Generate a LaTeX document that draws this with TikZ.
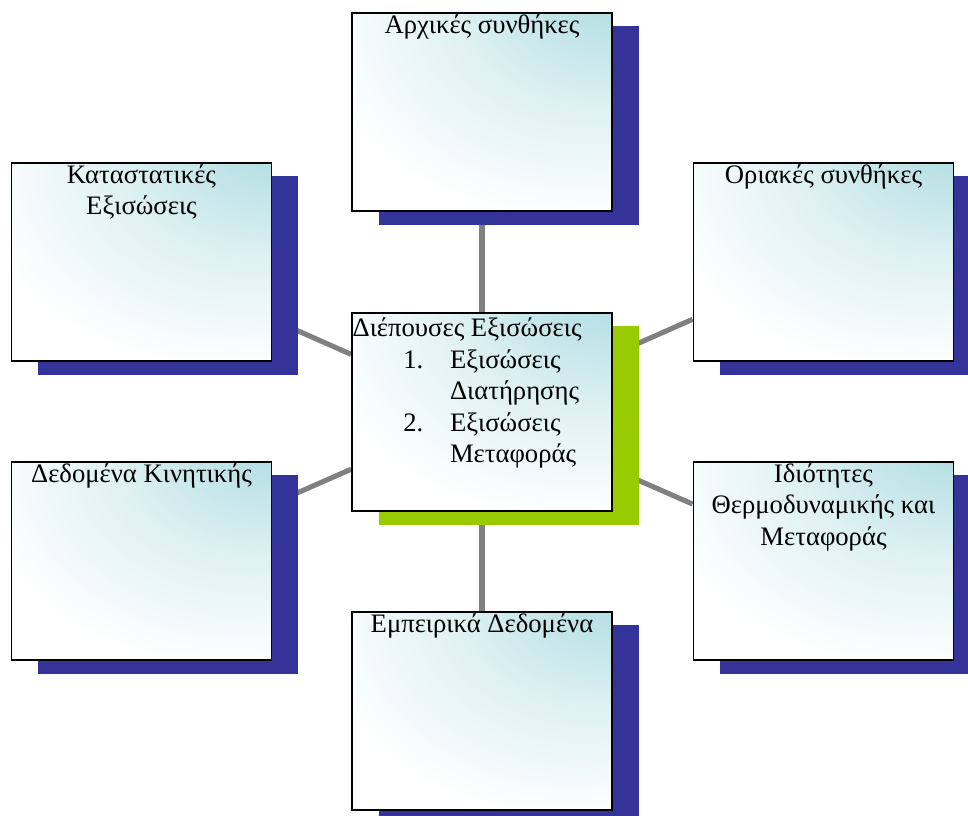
\documentclass[tikz,border=0pt]{standalone}
\usepackage{fontspec}
\setmainfont{Liberation Serif}
\usetikzlibrary{shadows, backgrounds}
\definecolor{boxcyan}{RGB}{183,224,228}
\definecolor{navyshade}{RGB}{51,51,153}
\definecolor{limeshade}{RGB}{153,204,0}
\pgfdeclareradialshading{glare}{\pgfpoint{30bp}{38bp}}{color(0bp)=(boxcyan); color(10bp)=(boxcyan); color(27bp)=(boxcyan!45!white); color(47bp)=(white); color(100bp)=(white)}
\tikzstyle{panel} = [rectangle, minimum width=195pt, minimum height=149pt, draw=black, line width=1.4pt, shade, shading=glare]
\tikzstyle{topic} = [panel, drop shadow={shadow xshift=20pt, shadow yshift=-10pt, fill=navyshade, opacity=1}]
\tikzstyle{hub} = [panel, drop shadow={shadow xshift=20pt, shadow yshift=-10pt, fill=limeshade, opacity=1}]
\tikzstyle{caption} = [align=center, inner sep=2pt, font=\fontsize{20}{23.6}\selectfont]
\tikzstyle{link} = [gray, line width=3.8pt]

\begin{document}
\begin{tikzpicture}[x=0.75pt, y=-0.75pt]
\useasboundingbox (0,0) rectangle (968,816);

% Central node
\node (gov) [hub, label={[caption, anchor=north west, inner xsep=1pt]north west:{%
\begin{tabular}{@{\hspace{38pt}}p{35pt}@{}l@{}}
\multicolumn{2}{@{}l@{}}{Διέπουσες Εξισώσεις}\\
1. & Εξισώσεις\\
   & Διατήρησης\\
2. & Εξισώσεις\\
   & Μεταφοράς
\end{tabular}}}] at (482,412) {};

% Surrounding nodes
\node (init) [topic, label={[caption, anchor=north]north:Αρχικές συνθήκες}] at (482,112) {};
\node (const) [topic, label={[caption, anchor=north]north:{Καταστατικές\\Εξισώσεις}}] at (141.5,262) {};
\node (bound) [topic, label={[caption, anchor=north]north:Οριακές συνθήκες}] at (823.5,262) {};
\node (kin) [topic, label={[caption, anchor=north]north:Δεδομένα Κινητικής}] at (141.5,561) {};
\node (props) [topic, label={[caption, anchor=north]north:{Ιδιότητες\\Θερμοδυναμικής και\\Μεταφοράς}}] at (823.5,561) {};
\node (emp) [topic, label={[caption, anchor=north]north:Εμπειρικά Δεδομένα}] at (482,711) {};

% Drawing links
\begin{scope}[on background layer]
\draw [link] (gov) -- (init);
\draw [link] (gov) -- (const);
\draw [link] (gov) -- (bound);
\draw [link] (gov) -- (kin);
\draw [link] (gov) -- (props);
\draw [link] (gov) -- (emp);
\end{scope}

\end{tikzpicture}
\end{document}
